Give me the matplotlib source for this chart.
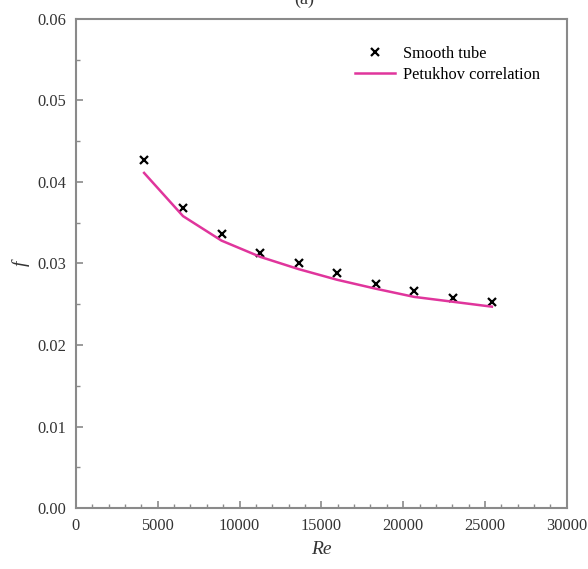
import matplotlib
matplotlib.use("Agg")
import matplotlib.pyplot as plt
from matplotlib.ticker import MultipleLocator

# data
re_exp = [4170, 6550, 8900, 11280, 13620, 15960, 18330, 20670, 23050, 25420]
f_exp = [0.0427, 0.0368, 0.0336, 0.0313, 0.0301, 0.0288, 0.0275, 0.0266, 0.0258, 0.0253]
f_pet = [0.0411, 0.0358, 0.0328, 0.0308, 0.0293, 0.0280, 0.0269, 0.0259, 0.0253, 0.0247]

plt.rcParams['font.family'] = ['Liberation Serif', 'DejaVu Serif']
grey = '#8a8a8a'

fig = plt.figure(figsize=(5.88, 5.69), dpi=100)
ax = fig.add_axes([0.129, 0.107, 0.835, 0.860])

ax.plot(re_exp, f_exp, linestyle='none', marker='x', color='black',
        markersize=6, markeredgewidth=1.6, label='Smooth tube')
ax.plot(re_exp, f_pet, color='#e0359c', linewidth=1.8, label='Petukhov correlation')

ax.set_xlim(0, 30000)
ax.set_ylim(0, 0.06)
ax.xaxis.set_major_locator(MultipleLocator(5000))
ax.xaxis.set_minor_locator(MultipleLocator(1000))
ax.yaxis.set_major_locator(MultipleLocator(0.01))
ax.yaxis.set_minor_locator(MultipleLocator(0.005))
ax.yaxis.set_major_formatter(matplotlib.ticker.FormatStrFormatter('%.2f'))

for s in ax.spines.values():
    s.set_color(grey)
    s.set_linewidth(1.5)
ax.tick_params(which='both', direction='in', color=grey, labelcolor='#333333',
               labelsize=11.8, top=False, right=False)
ax.tick_params(which='major', length=5, width=1.2, pad=7)
ax.tick_params(which='minor', length=3, width=1.0)

ax.set_xlabel('Re', style='italic', fontsize=14, color='#333333', labelpad=5)
ax.set_ylabel('f', style='italic', fontsize=14, color='#333333')
ax.yaxis.set_label_coords(-0.094, 0.5)

ax.legend(loc='upper right', bbox_to_anchor=(0.975, 0.975), frameon=False,
          fontsize=11.8, handlelength=2.4, labelspacing=0.3, handletextpad=0.5)

fig.text(0.517, 1.0 - 8 / 569, '(a)', ha='center', va='bottom', fontsize=13, color='#333333')

plt.savefig('out.png', dpi=100)
